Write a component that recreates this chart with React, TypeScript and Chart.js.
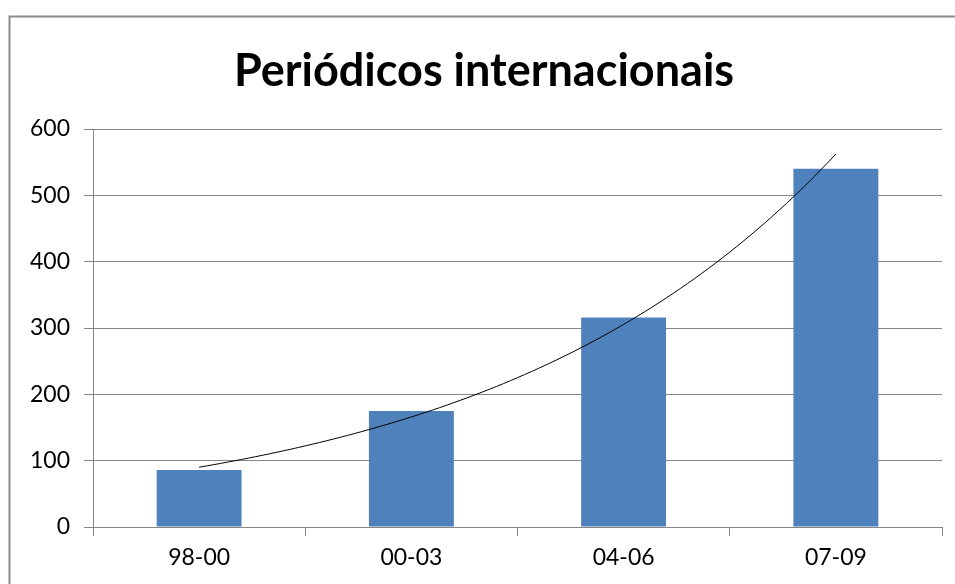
import React, { useEffect, useRef } from "react";
import { Chart, registerables } from "chart.js";

Chart.register(...registerables);

const categories = ["98-00", "00-03", "04-06", "07-09"];
const values = [86, 175, 316, 540];
const yTicks = [0, 100, 200, 300, 400, 500, 600];
const titleText = "Periódicos internacionais";

// Exponential trendline (least-squares fit of ln(y) on x, as Excel does)
function expFit(ys: number[]) {
  const n = ys.length;
  const xs = ys.map((_, i) => i);
  const ls = ys.map((v) => Math.log(v));
  const mx = xs.reduce((a, b) => a + b, 0) / n;
  const ml = ls.reduce((a, b) => a + b, 0) / n;
  let num = 0, den = 0;
  for (let i = 0; i < n; i++) {
    num += (xs[i] - mx) * (ls[i] - ml);
    den += (xs[i] - mx) * (xs[i] - mx);
  }
  const b = num / den;
  const a = ml - b * mx;
  return (x: number) => Math.exp(a + b * x);
}

const GRID = "#868686";
const FONT = "Lato, 'Open Sans', sans-serif";

export default function App() {
  const ref = useRef<HTMLCanvasElement>(null);
  useEffect(() => {
    if (!ref.current) return;
    const f = expFit(values);
    const trend: { x: number; y: number }[] = [];
    const steps = 90;
    for (let i = 0; i <= steps; i++) {
      const x = (i / steps) * (values.length - 1);
      trend.push({ x, y: f(x) });
    }
    const borderPlugin = {
      id: "outerBorder",
      beforeDraw(chart: any) {
        const ctx = chart.ctx;
        ctx.save();
        ctx.fillStyle = "#ffffff";
        ctx.fillRect(0, 0, chart.width, chart.height);
        ctx.strokeStyle = "#8a8a8a";
        ctx.lineWidth = 2;
        ctx.beginPath();
        ctx.moveTo(9.5, chart.height + 2);
        ctx.lineTo(9.5, 16.5);
        ctx.lineTo(chart.width + 2, 16.5);
        ctx.stroke();
        ctx.restore();
      },
    };
    const chart = new Chart(ref.current, {
      type: "bar",
      data: {
        labels: categories,
        datasets: [
          {
            type: "bar",
            data: values,
            backgroundColor: "#4F81BD",
            borderWidth: 0,
            barPercentage: 0.4,
            categoryPercentage: 1,
            grouped: false,
            order: 2,
          } as any,
          {
            type: "line",
            data: trend as any,
            xAxisID: "xt",
            borderColor: "#000000",
            borderWidth: 1,
            pointRadius: 0,
            tension: 0,
            order: 1,
          } as any,
        ],
      },
      options: {
        animation: false,
        responsive: false,
        maintainAspectRatio: false,
        layout: { padding: { left: 26, right: 13, top: 0, bottom: 0 } },
        plugins: {
          legend: { display: false },
          tooltip: { enabled: false },
          title: {
            display: true,
            text: titleText,
            color: "#000000",
            font: { family: FONT, size: 45, weight: "bold" },
            padding: { top: 44, bottom: 31 },
          },
        },
        scales: {
          x: {
            type: "category",
            offset: true,
            grid: {
              display: true,
              drawOnChartArea: false,
              drawTicks: true,
              tickLength: 9,
              color: GRID,
              offset: true,
            },
            border: { display: true, color: GRID, width: 1 },
            ticks: {
              color: "#000000",
              font: { family: FONT, size: 23 },
              padding: 8,
              maxRotation: 0,
            },
            afterFit: (s: any) => {
              s.height = 57;
            },
          },
          xt: {
            type: "linear",
            display: false,
            offset: false,
            min: -0.5,
            max: values.length - 0.5,
          },
          y: {
            type: "linear",
            min: 0,
            max: 600,
            afterBuildTicks: (s: any) => {
              s.ticks = yTicks.map((v) => ({ value: v }));
            },
            grid: {
              color: GRID,
              tickLength: 9,
              lineWidth: 1,
            },
            border: { display: true, color: GRID, width: 1 },
            ticks: {
              color: "#000000",
              font: { family: FONT, size: 23 },
              padding: 14,
            },
            afterFit: (s: any) => {
              s.width = 67;
            },
          },
        },
      },
      plugins: [borderPlugin],
    });
    return () => chart.destroy();
  }, []);
  return (
    <div style={{ position: "fixed", left: 0, top: 0, width: 955, height: 584 }}>
      <canvas ref={ref} width={955} height={584} style={{ display: "block" }} />
    </div>
  );
}
